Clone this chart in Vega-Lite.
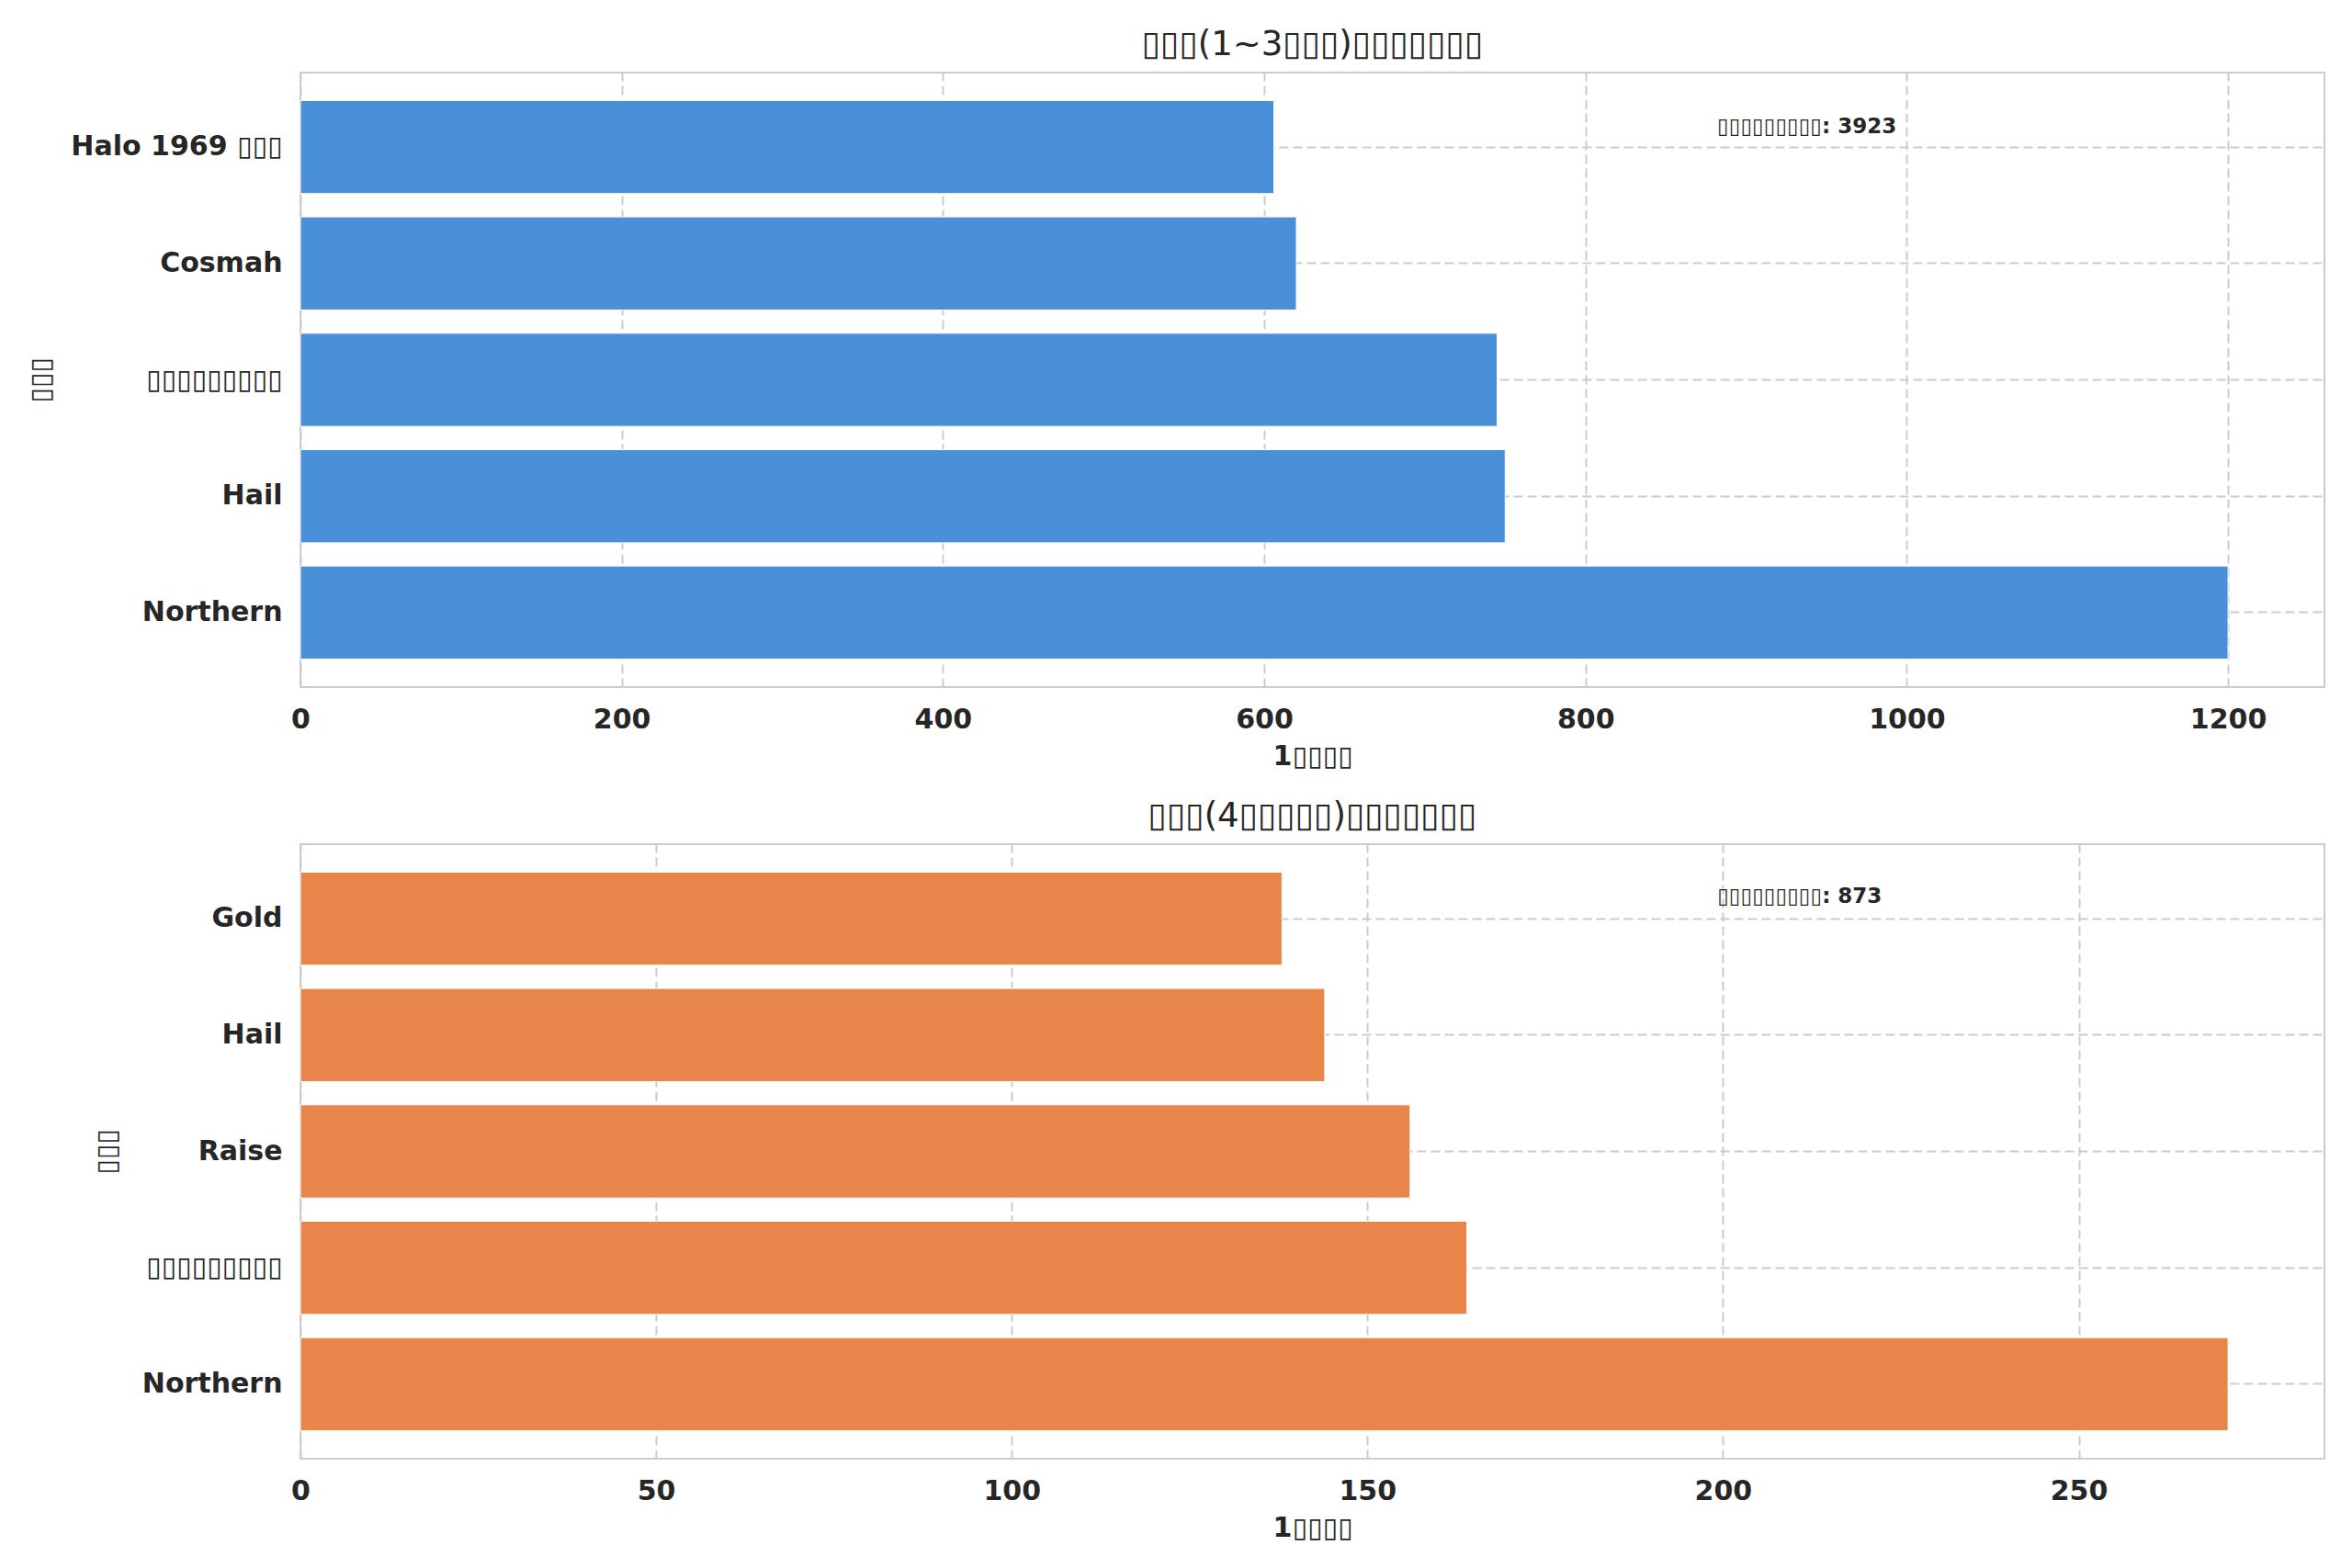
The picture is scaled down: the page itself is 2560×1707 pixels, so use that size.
{
  "$schema": "https://vega.github.io/schema/vega-lite/v6.json",
  "background": "white",
  "padding": {"top": 29, "left": 28, "right": 5, "bottom": 5},
  "datasets": {
    "short": [
      {"product": "Halo 1969 ▯▯▯", "count": 606},
      {"product": "Cosmah", "count": 620},
      {"product": "▯▯▯▯▯▯▯▯▯", "count": 745},
      {"product": "Hail", "count": 750},
      {"product": "Northern", "count": 1200}
    ],
    "shortNote": [
      {"product": "Halo 1969 ▯▯▯", "x": 882, "label": "▯▯▯▯▯▯▯▯▯: 3923"}
    ],
    "long": [
      {"product": "Gold", "count": 138},
      {"product": "Hail", "count": 144},
      {"product": "Raise", "count": 156},
      {"product": "▯▯▯▯▯▯▯▯▯", "count": 164},
      {"product": "Northern", "count": 271}
    ],
    "longNote": [
      {"product": "Gold", "x": 199.2, "label": "▯▯▯▯▯▯▯▯▯: 873"}
    ]
  },
  "config": {
    "font": "DejaVu Sans",
    "view": {"stroke": "#cccccc", "strokeWidth": 2},
    "title": {"fontSize": 37, "fontWeight": "normal", "color": "#262626", "offset": 11},
    "axis": {
      "labelFontSize": 30,
      "labelFontWeight": "bold",
      "labelColor": "#262626",
      "labelLimit": 0,
      "labelFlush": false,
      "titleFontSize": 30,
      "titleColor": "#262626",
      "domain": false,
      "ticks": false,
      "grid": true,
      "gridColor": "#cccccc",
      "gridDash": [10, 5],
      "gridWidth": 2
    }
  },
  "spacing": 30,
  "vconcat": [
    {
      "title": "▯▯▯(1~3▯▯▯)▯▯▯▯▯▯▯",
      "width": 2203,
      "height": 669,
      "layer": [
        {
          "data": {"name": "short"},
          "mark": {"type": "bar", "color": "#4a90d9", "stroke": "white", "strokeWidth": 1},
          "encoding": {
            "y": {
              "field": "product",
              "type": "nominal",
              "title": "▯▯▯",
              "scale": {
                "domain": ["Halo 1969 ▯▯▯", "Cosmah", "▯▯▯▯▯▯▯▯▯", "Hail", "Northern"],
                "paddingInner": 0.2,
                "paddingOuter": 0.24
              },
              "axis": {"bandPosition": 0.5, "labelPadding": 20, "titlePadding": 68, "titleFontWeight": "normal"}
            },
            "x": {
              "field": "count",
              "type": "quantitative",
              "title": "1▯▯▯▯",
              "scale": {"domain": [0, 1260], "nice": false},
              "axis": {"values": [0, 200, 400, 600, 800, 1000, 1200], "format": "d", "labelPadding": 20, "titlePadding": 10, "titleFontWeight": "bold"}
            }
          }
        },
        {
          "data": {"name": "shortNote"},
          "mark": {"type": "text", "align": "left", "baseline": "middle", "dy": -22, "fontSize": 23, "fontWeight": "bold", "color": "#262626"},
          "encoding": {
            "y": {"field": "product", "type": "nominal"},
            "x": {"field": "x", "type": "quantitative"},
            "text": {"field": "label"}
          }
        }
      ]
    },
    {
      "title": "▯▯▯(4▯▯▯▯▯)▯▯▯▯▯▯▯",
      "width": 2203,
      "height": 669,
      "layer": [
        {
          "data": {"name": "long"},
          "mark": {"type": "bar", "color": "#e8854a", "stroke": "white", "strokeWidth": 1},
          "encoding": {
            "y": {
              "field": "product",
              "type": "nominal",
              "title": "▯▯▯",
              "scale": {
                "domain": ["Gold", "Hail", "Raise", "▯▯▯▯▯▯▯▯▯", "Northern"],
                "paddingInner": 0.2,
                "paddingOuter": 0.24
              },
              "axis": {"bandPosition": 0.5, "labelPadding": 20, "titlePadding": 23, "titleFontWeight": "normal"}
            },
            "x": {
              "field": "count",
              "type": "quantitative",
              "title": "1▯▯▯▯",
              "scale": {"domain": [0, 284.55], "nice": false},
              "axis": {"values": [0, 50, 100, 150, 200, 250], "format": "d", "labelPadding": 20, "titlePadding": 10, "titleFontWeight": "bold"}
            }
          }
        },
        {
          "data": {"name": "longNote"},
          "mark": {"type": "text", "align": "left", "baseline": "middle", "dy": -24, "fontSize": 23, "fontWeight": "bold", "color": "#262626"},
          "encoding": {
            "y": {"field": "product", "type": "nominal"},
            "x": {"field": "x", "type": "quantitative"},
            "text": {"field": "label"}
          }
        }
      ]
    }
  ]
}
